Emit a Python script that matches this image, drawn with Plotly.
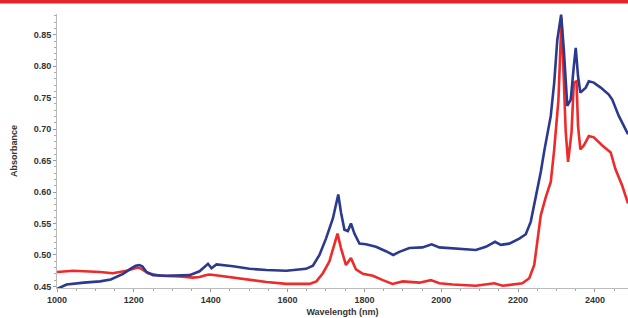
import plotly.graph_objects as go

wl_blue = [1000,1025,1070,1112,1140,1172,1194,1205,1214,1222,1233,1250,1285,1345,1371,1385,1393,1402,1415,1458,1501,1545,1597,1648,1666,1683,1700,1718,1725,1732,1739,1748,1757,1765,1774,1787,1804,1830,1856,1875,1891,1917,1951,1975,1995,2021,2064,2090,2116,2140,2155,2177,2203,2220,2233,2246,2259,2268,2275,2285,2294,2302,2312,2319,2328,2337,2345,2350,2356,2362,2376,2384,2397,2415,2436,2445,2462,2486]
abs_blue = [0.446,0.453,0.456,0.458,0.461,0.470,0.479,0.483,0.484,0.482,0.473,0.468,0.467,0.468,0.474,0.481,0.486,0.479,0.485,0.482,0.478,0.476,0.475,0.478,0.483,0.500,0.526,0.558,0.575,0.596,0.568,0.540,0.538,0.550,0.534,0.518,0.517,0.513,0.506,0.500,0.505,0.511,0.512,0.517,0.512,0.511,0.510,0.508,0.513,0.521,0.516,0.518,0.526,0.533,0.553,0.590,0.632,0.665,0.690,0.721,0.774,0.842,0.882,0.826,0.737,0.747,0.800,0.829,0.784,0.758,0.766,0.776,0.774,0.766,0.755,0.747,0.721,0.692]

wl_red = [1000,1042,1112,1145,1181,1200,1210,1220,1237,1268,1319,1354,1371,1389,1397,1423,1458,1501,1545,1597,1657,1675,1692,1709,1722,1730,1739,1752,1765,1778,1796,1822,1848,1873,1900,1943,1973,1995,2030,2090,2138,2160,2211,2229,2242,2250,2259,2272,2285,2294,2305,2313,2319,2324,2330,2339,2345,2352,2356,2362,2371,2384,2397,2419,2441,2453,2471,2486]
abs_red = [0.473,0.475,0.473,0.471,0.475,0.478,0.480,0.478,0.471,0.467,0.466,0.464,0.465,0.468,0.469,0.467,0.464,0.460,0.457,0.454,0.454,0.458,0.471,0.490,0.516,0.534,0.511,0.484,0.495,0.477,0.470,0.467,0.460,0.454,0.458,0.456,0.460,0.455,0.453,0.451,0.455,0.451,0.455,0.463,0.484,0.521,0.563,0.592,0.616,0.668,0.747,0.876,0.774,0.695,0.648,0.695,0.774,0.776,0.705,0.668,0.674,0.689,0.687,0.674,0.663,0.637,0.610,0.582]

x_ticks = [1000, 1200, 1400, 1600, 1800, 2000, 2200, 2400]
y_ticks = [0.45, 0.50, 0.55, 0.60, 0.65, 0.70, 0.75, 0.80, 0.85]

BLUE = "#2B3A8F"
RED = "#EE2A2A"

fig = go.Figure()
fig.add_trace(go.Scatter(x=wl_red, y=abs_red, mode="lines",
                         line=dict(color=RED, width=2.6), showlegend=False))
fig.add_trace(go.Scatter(x=wl_blue, y=abs_blue, mode="lines",
                         line=dict(color=BLUE, width=2.6), showlegend=False))

H = 318
t, b = 14, 30
plot_h = H - t - b

FONT = "Liberation Sans, Arial, sans-serif"
tickfont = dict(family=FONT, size=9, color="#333333", weight="bold")

fig.update_layout(
    width=628, height=318,
    margin=dict(l=57, r=0, t=t, b=b),
    paper_bgcolor="white", plot_bgcolor="white",
    xaxis=dict(range=[1000, 2486], tickvals=x_ticks, ticktext=[str(v) for v in x_ticks],
               showgrid=False, zeroline=False, showline=True, linecolor="#bbbbbb", linewidth=1,
               ticks="outside", ticklen=3, tickcolor="#999999", tickfont=tickfont,
               minor=dict(dtick=50, ticks="outside", ticklen=2, tickcolor="#aaaaaa"),
               title=dict(text="Wavelength (nm)", font=dict(family=FONT, size=9, color="#333333", weight="bold"), standoff=4)),
    yaxis=dict(range=[0.4475, 0.883], tickvals=y_ticks, ticktext=["%.2f" % v for v in y_ticks],
               showgrid=False, zeroline=False, showline=True, linecolor="#bbbbbb", linewidth=1,
               ticks="outside", ticklen=3, tickcolor="#999999", tickfont=tickfont,
               minor=dict(dtick=0.01, ticks="outside", ticklen=2, tickcolor="#aaaaaa"),
               title=dict(text="Absorbance", font=dict(family=FONT, size=9, color="#333333", weight="bold"), standoff=14)),
    shapes=[dict(type="rect", xref="paper", yref="paper", x0=-0.2, x1=1.01,
                 y0=1 + (t - 3.5) / plot_h, y1=1 + t / plot_h,
                 fillcolor="#E3242B", line=dict(width=0), layer="above")],
)

fig.write_html("out.html", config={"displayModeBar": False},
               post_script="document.body.style.margin='0';document.body.style.overflow='hidden';")
